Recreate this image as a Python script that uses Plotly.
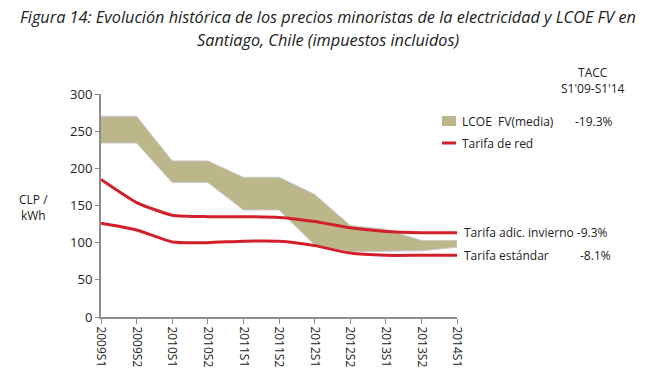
import plotly.graph_objects as go

categories = ["2009S1", "2009S2", "2010S1", "2010S2", "2011S1", "2011S2",
              "2012S1", "2012S2", "2013S1", "2013S2", "2014S1"]
lcoe_upper = [270, 270, 210, 210, 188, 188, 165, 123, 118, 103, 103]
lcoe_lower = [234, 234, 181, 181, 144, 144, 97, 88, 88, 89, 94]
tarifa_invierno = [185, 154, 137, 135, 135, 134, 128.5, 120, 115, 113.5, 113.5]
tarifa_estandar = [126, 117, 101, 100, 102, 102, 96, 86, 83, 83, 83]
y_ticks = [0, 50, 100, 150, 200, 250, 300]

FONT = "Open Sans"
BAND = "#BCB78A"
RED = "#D2202A"
AXIS = "#8C8C8C"

fig = go.Figure()

fig.add_trace(go.Scatter(
    x=categories + categories[::-1],
    y=lcoe_upper + lcoe_lower[::-1],
    fill="toself", fillcolor=BAND,
    line=dict(color="#C9C9C9", width=1),
    mode="lines", hoverinfo="skip", showlegend=False))

for ys in (tarifa_invierno, tarifa_estandar):
    fig.add_trace(go.Scatter(
        x=categories, y=ys, mode="lines",
        line=dict(color=RED, width=3, shape="spline", smoothing=0.5),
        showlegend=False))

fig.update_layout(
    width=655, height=388,
    margin=dict(l=101, r=198, t=94, b=71),
    paper_bgcolor="white", plot_bgcolor="white",
    font=dict(family=FONT, size=13, color="#222"),
    showlegend=False,
)
fig.update_xaxes(
    type="category", range=[0, 10], showgrid=False,
    showline=True, linecolor=AXIS, linewidth=2,
    ticks="outside", ticklen=5, tickcolor=AXIS, tickwidth=1,
    tickangle=90, tickfont=dict(size=12, color="#222"),
)
fig.update_yaxes(
    range=[0, 300], tickvals=y_ticks, showgrid=False, zeroline=False,
    showline=True, linecolor=AXIS, linewidth=2,
    ticks="outside", ticklen=4, tickcolor=AXIS, tickwidth=1,
    tickfont=dict(size=13, color="#222"),
)

def ann(text, x, y, size=12, xanchor="left", italic=False, align="left"):
    fig.add_annotation(
        text=text, x=x, y=y, xref="paper", yref="paper",
        xanchor=xanchor, yanchor="middle", showarrow=False, align=align,
        font=dict(family=FONT, size=size, color="#222",
                  style="italic" if italic else "normal"))

def px(xp):
    return (xp - 101) / 356.0

def py(yp):
    return (317 - yp) / 223.0

# Title
ann("Figura 14: Evolución histórica de los precios minoristas de la electricidad y LCOE FV en",
    px(328), py(17), size=16.3, xanchor="center", italic=True)
ann("Santiago, Chile (impuestos incluidos)", px(328), py(40), size=16.3,
    xanchor="center", italic=True)

# Y-axis label
ann("CLP /<br>kWh", px(33), py(207), size=12, xanchor="center", align="center")

# TACC header
ann("TACC<br>S1'09-S1'14", px(593), py(80), size=12, xanchor="center", align="center")

# Legend
fig.add_shape(type="rect", xref="paper", yref="paper",
              x0=px(442), x1=px(456), y0=py(126), y1=py(116),
              fillcolor=BAND, line=dict(width=0))
ann("LCOE  FV(media)", px(460), py(121))
ann("-19.3%", px(573), py(121))
fig.add_shape(type="line", xref="paper", yref="paper",
              x0=px(442), x1=px(456), y0=py(143), y1=py(143),
              line=dict(color=RED, width=3))
ann("Tarifa de red", px(460), py(143))

# Right-side series labels
ann("Tarifa adic. invierno -9.3%", px(462), py(232))
ann("Tarifa estándar", px(462), py(255))
ann("-8.1%", px(578), py(255))

fig.write_html("out.html", config={"displayModeBar": False},
               post_script="document.body.style.margin='0';")
